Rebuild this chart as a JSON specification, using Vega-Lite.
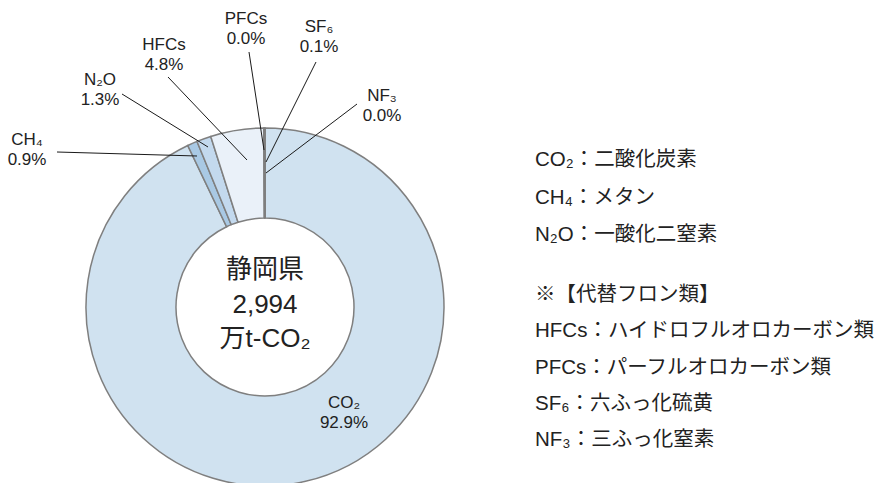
{
  "$schema": "https://vega.github.io/schema/vega-lite/v6.json",
  "width": 881,
  "height": 483,
  "padding": 0,
  "autosize": {"type": "none"},
  "background": "#ffffff",
  "config": {"view": {"stroke": null}, "text": {"font": "Liberation Sans, Noto Sans CJK JP, sans-serif", "color": "#222222", "fontWeight": "normal"}},
  "datasets": {
    "gas": [
      {"gas": "CO₂", "share": 0.929, "idx": 1, "lx": 344, "ly": 413, "x1": null, "y1": null, "x2": null, "y2": null},
      {"gas": "CH₄", "share": 0.009, "idx": 2, "lx": 27, "ly": 150, "x1": 57, "y1": 152, "x2": 197, "y2": 156},
      {"gas": "N₂O", "share": 0.013, "idx": 3, "lx": 100, "ly": 90, "x1": 122, "y1": 94, "x2": 208, "y2": 147},
      {"gas": "HFCs", "share": 0.048, "idx": 4, "lx": 164, "ly": 55, "x1": 168, "y1": 77, "x2": 247, "y2": 160},
      {"gas": "PFCs", "share": 0.000, "idx": 5, "lx": 246, "ly": 29, "x1": 249, "y1": 52, "x2": 264, "y2": 150},
      {"gas": "SF₆", "share": 0.001, "idx": 6, "lx": 319, "ly": 37, "x1": 316, "y1": 62, "x2": 266, "y2": 162},
      {"gas": "NF₃", "share": 0.000, "idx": 7, "lx": 382, "ly": 106, "x1": 357, "y1": 104, "x2": 266, "y2": 173}
    ],
    "total": [
      {"region": "静岡県", "total": "2,994", "unit": "万t-CO₂"}
    ]
  },
  "data": {"name": "gas"},
  "layer": [
    {
      "mark": {"type": "arc", "radius": 179, "radius2": 89, "stroke": "#7f7f7f", "strokeWidth": 1.5},
      "encoding": {
        "x": {"datum": 265, "type": "quantitative", "scale": {"domain": [0, 881], "nice": false, "zero": false}, "axis": null},
        "y": {"datum": 307, "type": "quantitative", "scale": {"domain": [0, 483], "nice": false, "zero": false, "reverse": true}, "axis": null},
        "theta": {"field": "share", "type": "quantitative", "stack": true},
        "order": {"field": "idx", "type": "quantitative"},
        "color": {
          "field": "gas", "type": "nominal", "legend": null,
          "scale": {
            "domain": ["CO₂", "CH₄", "N₂O", "HFCs", "PFCs", "SF₆", "NF₃"],
            "range": ["#d0e2f0", "#a9c9e4", "#c3d9ee", "#eaf1f9", "#8a8a8a", "#8a8a8a", "#8a8a8a"]
          }
        }
      }
    },
    {
      "transform": [{"filter": "datum.x1 != null"}],
      "mark": {"type": "rule", "color": "#1a1a1a", "strokeWidth": 1},
      "encoding": {
        "x": {"field": "x1", "type": "quantitative"},
        "y": {"field": "y1", "type": "quantitative"},
        "x2": {"field": "x2"},
        "y2": {"field": "y2"}
      }
    },
    {
      "mark": {"type": "text", "fontSize": 17, "align": "center", "baseline": "middle", "dy": -10},
      "encoding": {
        "x": {"field": "lx", "type": "quantitative"},
        "y": {"field": "ly", "type": "quantitative"},
        "text": {"field": "gas", "type": "nominal"}
      }
    },
    {
      "mark": {"type": "text", "fontSize": 17, "align": "center", "baseline": "middle", "dy": 10},
      "encoding": {
        "x": {"field": "lx", "type": "quantitative"},
        "y": {"field": "ly", "type": "quantitative"},
        "text": {"field": "share", "type": "quantitative", "format": ".1%"}
      }
    },
    {
      "data": {"name": "total"},
      "mark": {"type": "text", "fontSize": 26, "align": "center", "baseline": "middle", "dy": -35},
      "encoding": {
        "x": {"datum": 265, "type": "quantitative"},
        "y": {"datum": 305, "type": "quantitative"},
        "text": {"field": "region", "type": "nominal"}
      }
    },
    {
      "data": {"name": "total"},
      "mark": {"type": "text", "fontSize": 26, "align": "center", "baseline": "middle", "dy": 0},
      "encoding": {
        "x": {"datum": 265, "type": "quantitative"},
        "y": {"datum": 305, "type": "quantitative"},
        "text": {"field": "total", "type": "nominal"}
      }
    },
    {
      "data": {"name": "total"},
      "mark": {"type": "text", "fontSize": 26, "align": "center", "baseline": "middle", "dy": 34},
      "encoding": {
        "x": {"datum": 265, "type": "quantitative"},
        "y": {"datum": 305, "type": "quantitative"},
        "text": {"field": "unit", "type": "nominal"}
      }
    },
    {
      "data": {"values": [{}]},
      "mark": {"type": "text", "fontSize": 20.5, "align": "left", "baseline": "middle", "lineHeight": 37.5},
      "encoding": {
        "x": {"datum": 535, "type": "quantitative"},
        "y": {"datum": 160, "type": "quantitative"},
        "text": {"value": ["CO₂：二酸化炭素", "CH₄：メタン", "N₂O：一酸化二窒素"]}
      }
    },
    {
      "data": {"values": [{}]},
      "mark": {"type": "text", "fontSize": 20.5, "align": "left", "baseline": "middle", "lineHeight": 36.25},
      "encoding": {
        "x": {"datum": 535, "type": "quantitative"},
        "y": {"datum": 295, "type": "quantitative"},
        "text": {"value": ["※【代替フロン類】", "HFCs：ハイドロフルオロカーボン類", "PFCs：パーフルオロカーボン類", "SF₆：六ふっ化硫黄", "NF₃：三ふっ化窒素"]}
      }
    }
  ]
}
